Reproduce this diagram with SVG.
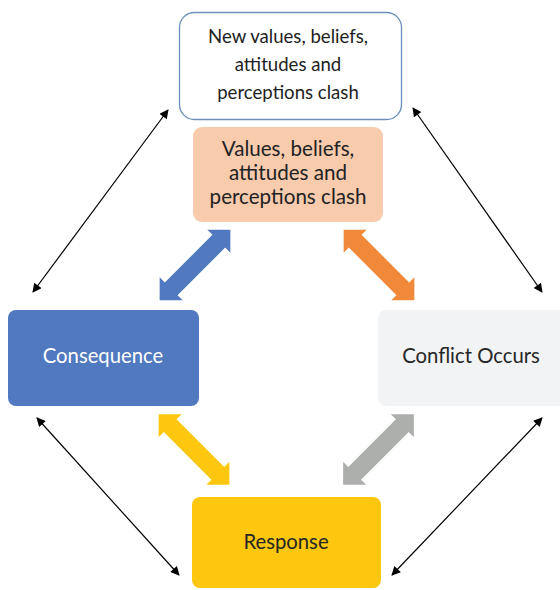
<svg xmlns="http://www.w3.org/2000/svg" width="560" height="590" viewBox="0 0 560 590">
<style>
.t{font-family:Lato,"Liberation Sans",Arial,sans-serif;text-anchor:middle}
.thin{stroke:#000;stroke-width:1.2;fill:none;marker-start:url(#ah);marker-end:url(#ah)}
</style>
<defs>
<marker id="ah" viewBox="0 0 10 10" refX="9" refY="5" markerWidth="10" markerHeight="9" markerUnits="userSpaceOnUse" orient="auto-start-reverse">
<path d="M0,0 L10,5 L0,10 z" fill="#000"/>
</marker>
<polygon id="dbl" points="-50,0 -33.7,-16.3 -33.7,-9 33.7,-9 33.7,-16.3 50,0 33.7,16.3 33.7,9 -33.7,9 -33.7,16.3"/>
</defs>
<rect width="560" height="590" fill="#fff"/>
<g id="connectors">
<use href="#dbl" fill="#5079bf" transform="translate(195,265) rotate(-45)"/>
<use href="#dbl" fill="#f08a3a" transform="translate(379,265) rotate(45)"/>
<use href="#dbl" fill="#fdc60f" transform="translate(194,449.5) rotate(45)"/>
<use href="#dbl" fill="#adafad" transform="translate(378.5,449.5) rotate(-45)"/>
<line class="thin" x1="168" y1="110" x2="33" y2="292"/>
<line class="thin" x1="413" y1="108" x2="542" y2="292"/>
<line class="thin" x1="37" y1="418" x2="179" y2="575"/>
<line class="thin" x1="542" y1="418" x2="392" y2="575"/>
</g>
<g id="new-values">
<rect x="179.5" y="12.5" width="222" height="107" rx="15" fill="#fff" stroke="#6b8fba" stroke-width="1.3"/>
<text class="t" x="288" y="43" font-size="18.6" fill="#222">New values, beliefs,</text>
<text class="t" x="288" y="71" font-size="18.6" fill="#222">attitudes and</text>
<text class="t" x="288" y="99" font-size="18.6" fill="#222">perceptions clash</text>
</g>
<g id="values">
<rect x="193" y="127" width="190" height="95" rx="9" fill="#f8cbad"/>
<text class="t" x="288" y="156" font-size="20.6" fill="#222">Values, beliefs,</text>
<text class="t" x="288" y="180" font-size="20.6" fill="#222">attitudes and</text>
<text class="t" x="288" y="204" font-size="20.6" fill="#222">perceptions clash</text>
</g>
<g id="consequence">
<rect x="8" y="310" width="191" height="96" rx="8" fill="#5079bf"/>
<text class="t" x="103" y="363" font-size="20.3" fill="#fff">Consequence</text>
</g>
<g id="conflict">
<rect x="378" y="310" width="190" height="96" rx="8" fill="#f2f3f5"/>
<text class="t" x="471" y="363" font-size="20.3" fill="#262626">Conflict Occurs</text>
</g>
<g id="response">
<rect x="192" y="497" width="189" height="91" rx="8" fill="#fdc60f"/>
<text class="t" x="286" y="549" font-size="20.3" fill="#262626">Response</text>
</g>
</svg>
